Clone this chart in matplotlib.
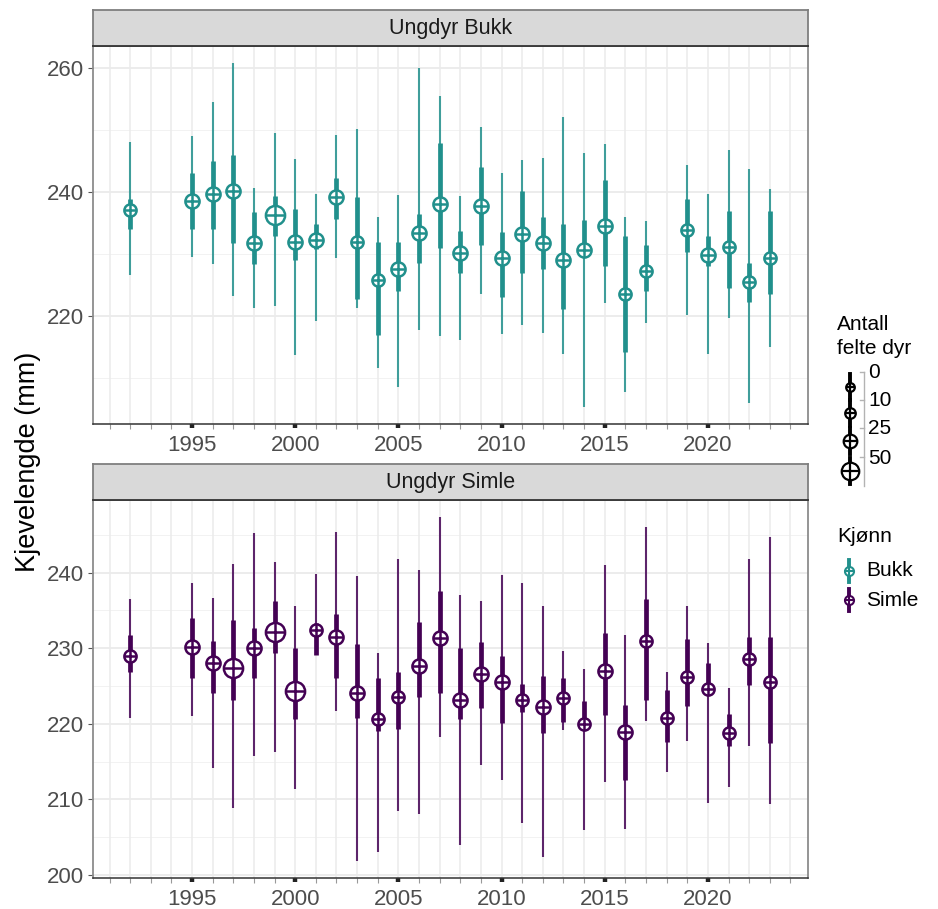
import matplotlib
matplotlib.use("Agg")
import matplotlib.pyplot as plt
import numpy as np

plt.rcParams['font.family'] = ['Liberation Sans', 'DejaVu Sans']

# --- data: Ungdyr Bukk ---
bukk_years = [1992, 1995, 1996, 1997, 1998, 1999, 2000, 2001, 2002, 2003, 2004,
              2005, 2006, 2007, 2008, 2009, 2010, 2011, 2012, 2013, 2014, 2015,
              2016, 2017, 2019, 2020, 2021, 2022, 2023]
bukk_mean = [237.0, 238.6, 239.7, 240.2, 231.8, 236.2, 232.0, 232.3, 239.2, 231.9, 225.8,
             227.6, 233.4, 238.0, 230.1, 237.8, 229.3, 233.2, 231.8, 229.1, 230.6, 234.5,
             223.5, 227.3, 233.8, 229.8, 231.1, 225.5, 229.4]
bukk_lo95 = [226.6, 229.5, 228.4, 223.2, 221.3, 221.6, 213.7, 219.2, 229.4, 221.3, 211.7,
             208.5, 217.8, 216.8, 216.2, 223.6, 217.1, 218.6, 217.2, 213.9, 205.3, 222.1,
             207.8, 218.9, 220.1, 213.9, 219.7, 206.0, 215.0]
bukk_hi95 = [248.0, 249.0, 254.4, 260.7, 240.6, 249.5, 245.3, 239.6, 249.1, 250.1, 236.0,
             239.5, 259.9, 255.5, 239.4, 250.4, 243.0, 245.2, 245.4, 252.0, 246.2, 247.7,
             236.0, 235.3, 244.4, 239.7, 246.8, 243.7, 240.5]
bukk_lo50 = [234.0, 234.0, 234.0, 231.8, 228.3, 232.9, 229.1, 230.8, 235.6, 222.8, 217.0,
             224.0, 228.6, 231.0, 226.9, 231.5, 223.1, 226.9, 227.6, 221.1, 229.8, 228.0,
             214.2, 224.0, 230.3, 228.0, 224.5, 222.3, 223.5]
bukk_hi50 = [238.9, 243.0, 244.9, 245.9, 236.7, 239.4, 237.3, 234.9, 242.2, 239.2, 232.0,
             232.0, 236.5, 247.9, 233.7, 244.0, 233.5, 240.2, 236.0, 234.9, 235.4, 241.9,
             232.9, 231.4, 238.9, 232.9, 236.9, 228.5, 236.9]
bukk_n = [15, 35, 35, 35, 35, 60, 35, 30, 35, 20, 20,
          35, 35, 35, 35, 35, 35, 35, 35, 35, 35, 35,
          20, 20, 20, 30, 20, 20, 20]

# --- data: Ungdyr Simle ---
simle_years = [1992, 1995, 1996, 1997, 1998, 1999, 2000, 2001, 2002, 2003, 2004,
               2005, 2006, 2007, 2008, 2009, 2010, 2011, 2012, 2013, 2014, 2015,
               2016, 2017, 2018, 2019, 2020, 2021, 2022, 2023]
simle_mean = [229.0, 230.2, 228.1, 227.4, 230.0, 232.1, 224.4, 232.4, 231.5, 224.1, 220.6,
              223.5, 227.6, 231.3, 223.2, 226.6, 225.5, 223.2, 222.2, 223.4, 220.0, 227.0,
              218.9, 231.0, 220.7, 226.2, 224.6, 218.8, 228.6, 225.5]
simle_lo95 = [220.7, 221.0, 214.1, 208.8, 215.7, 216.3, 211.4, 229.1, 221.7, 201.9, 203.1,
              208.5, 208.0, 218.2, 204.0, 214.6, 212.5, 206.9, 202.4, 219.2, 205.9, 212.3,
              206.1, 220.4, 213.6, 217.7, 209.5, 211.7, 217.1, 209.4]
simle_hi95 = [236.5, 238.6, 236.6, 241.1, 245.3, 241.4, 235.6, 239.8, 245.4, 239.5, 229.4,
              241.8, 240.4, 247.3, 237.1, 236.3, 239.7, 238.6, 235.6, 229.6, 227.2, 241.0,
              231.8, 246.0, 226.8, 235.6, 230.7, 224.7, 241.8, 244.7]
simle_lo50 = [226.8, 226.0, 224.1, 223.1, 226.0, 229.3, 220.6, 229.1, 226.0, 220.8, 219.1,
              219.3, 223.6, 224.1, 220.6, 222.1, 220.1, 221.6, 218.8, 220.3, 219.6, 221.1,
              212.6, 223.1, 217.6, 222.3, 224.0, 217.1, 225.1, 217.5]
simle_hi50 = [231.7, 234.0, 231.0, 233.7, 232.7, 236.3, 230.0, 233.3, 234.5, 230.5, 226.0,
              226.8, 233.5, 237.5, 230.0, 230.8, 229.0, 225.3, 226.3, 226.0, 223.0, 232.0,
              222.5, 236.5, 224.5, 231.2, 228.0, 221.3, 231.5, 231.5]
simle_n = [15, 35, 35, 60, 35, 60, 60, 15, 35, 35, 20,
           20, 35, 35, 35, 35, 35, 20, 35, 20, 20, 35,
           35, 20, 20, 20, 20, 20, 20, 20]

size_breaks = [0, 10, 25, 50]
size_labels = ["0", "10", "25", "50"]
bin_ms = [7.0, 8.8, 10.2, 13.8]   # marker size (pt) per size bin

col_bukk = "#21908C"
col_simle = "#440154"

W, H = 938, 909
fig = plt.figure(figsize=(W / 100, H / 100), dpi=100)


def px_axes(left, top, right, bottom):
    return fig.add_axes([left / W, 1 - bottom / H, (right - left) / W, (bottom - top) / H])


def draw_panel(ax, years, mean, lo95, hi95, lo50, hi50, n, color):
    years = np.array(years)
    ax.vlines(years, lo95, hi95, color=color, lw=1.5, alpha=0.85, zorder=3)
    ax.vlines(years, lo50, hi50, color=color, lw=3.4, zorder=4)
    bins = np.digitize(n, size_breaks[1:])
    for x, y, b in zip(years, mean, bins):
        ms = bin_ms[b]
        ax.plot(x, y, marker='o', ms=ms, mfc='white', mec=color, mew=1.8, zorder=5)
        ax.plot(x, y, marker='+', ms=ms, mec=color, mew=1.8, zorder=6)


def style_axes(ax, ylim, ymajor, yminor):
    ax.set_xlim(1990.2, 2024.85)
    ax.set_ylim(*ylim)
    for yv in yminor:
        ax.axhline(yv, color='#F2F2F2', lw=0.7, zorder=0)
    for yv in ymajor:
        ax.axhline(yv, color='#EBEBEB', lw=1.3, zorder=0)
    for xv in range(1991, 2025):
        ax.axvline(xv, color='#EBEBEB', lw=1.1, zorder=0)
    ax.set_yticks(ymajor)
    ax.set_yticklabels([str(v) for v in ymajor])
    ax.set_xticks(range(1995, 2021, 5))
    ax.set_xticklabels([str(v) for v in range(1995, 2021, 5)])
    ax.set_xticks(range(1991, 2025), minor=True)
    ax.tick_params(axis='x', which='major', length=3.0, width=3.2, color='#222222',
                   labelsize=16, labelcolor='#4D4D4D', pad=5)
    ax.tick_params(axis='x', which='minor', length=3.5, width=0.8, color='#999999')
    ax.tick_params(axis='y', which='both', length=3.5, width=0.8, color='#555555',
                   labelsize=16, labelcolor='#4D4D4D', pad=3)
    ax.tick_params(axis='y', which='minor', left=False)
    for s in ['top', 'right', 'left']:
        ax.spines[s].set_color('#8C8C8C')
        ax.spines[s].set_linewidth(1.3)
    ax.spines['bottom'].set_color('#333333')
    ax.spines['bottom'].set_linewidth(1.1)


def strip(top, bottom, text):
    sax = px_axes(93, top, 808, bottom)
    sax.set_facecolor('#D9D9D9')
    sax.set_xticks([])
    sax.set_yticks([])
    for s in sax.spines.values():
        s.set_color('#7F7F7F')
        s.set_linewidth(1.3)
    sax.spines['bottom'].set_color('#333333')
    sax.text(0.5, 0.48, text, ha='center', va='center', fontsize=15.5, color='#1A1A1A',
             transform=sax.transAxes)


ax1 = px_axes(93, 46, 808, 424)
draw_panel(ax1, bukk_years, bukk_mean, bukk_lo95, bukk_hi95, bukk_lo50, bukk_hi50,
           bukk_n, col_bukk)
style_axes(ax1, (202.6, 263.5), [220, 240, 260], [210, 230, 250])
strip(10, 46, "Ungdyr Bukk")

ax2 = px_axes(93, 500, 808, 878)
draw_panel(ax2, simle_years, simle_mean, simle_lo95, simle_hi95, simle_lo50, simle_hi50,
           simle_n, col_simle)
style_axes(ax2, (199.6, 249.6), [200, 210, 220, 230, 240], [205, 215, 225, 235, 245])
strip(464, 500, "Ungdyr Simle")

fig.text(28 / W, 1 - 462 / H, "Kjevelengde (mm)", rotation=90, ha='center', va='center',
         fontsize=19.5, color='black')

# --- legends drawn on an overlay in pixel coordinates ---
lax = fig.add_axes([0, 0, 1, 1], zorder=10)
lax.set_xlim(0, W)
lax.set_ylim(H, 0)
lax.axis('off')
lax.patch.set_alpha(0)

lax.text(837, 324, "Antall", fontsize=15, va='center', ha='left')
lax.text(837, 349, "felte dyr", fontsize=15, va='center', ha='left')
key_ms = [6.2, 7.6, 9.8, 12.6]
key_y = [387, 413, 441, 471]
for ky, ms in zip(key_y, key_ms):
    lax.plot([850, 850], [ky - 13, ky + 13], color='black', lw=2.8)
    lax.plot(850, ky, marker='o', ms=ms, mfc='white', mec='black', mew=1.6)
    lax.plot(850, ky, marker='+', ms=ms, mec='black', mew=1.6)
tick_y = [372, 400, 428, 457]
lax.plot([864, 864], [372, 486], color='#B3B3B3', lw=1.0)
for ty, lab in zip(tick_y, size_labels):
    lax.plot([860, 864], [ty, ty], color='#B3B3B3', lw=1.0)
    lax.text(868, ty + 1, lab, fontsize=15, va='center', ha='left')

lax.text(837, 537, "Kjønn", fontsize=15, va='center', ha='left')
for ky, col, lab in [(571, col_bukk, "Bukk"), (600, col_simle, "Simle")]:
    lax.plot([849, 849], [ky - 11, ky + 11], color=col, lw=2.8)
    lax.plot(849, ky, marker='o', ms=6.5, mfc='white', mec=col, mew=1.5)
    lax.plot(849, ky, marker='+', ms=6.5, mec=col, mew=1.5)
    lax.text(866, ky, lab, fontsize=15, va='center', ha='left')

fig.savefig("out.png", dpi=100)
